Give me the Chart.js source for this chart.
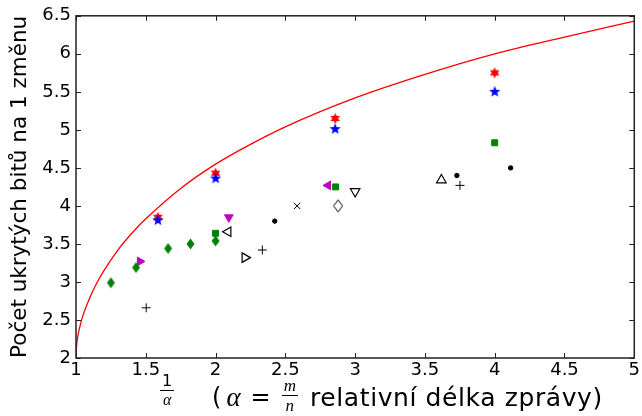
<!DOCTYPE html>
<html>
<head>
<meta charset="utf-8">
<script src="https://cdn.jsdelivr.net/npm/chart.js@4.4.1/dist/chart.umd.min.js"></script>
<style>
body { margin: 0; background: #fff; }
#wrap { position: relative; width: 642px; height: 416px; }
#plot { position: absolute; left: 0; top: 0; }
.mi { font-family: "Liberation Serif", serif; font-style: italic; }
.frac { display: flex; flex-direction: column; align-items: center; line-height: 1; }
.frac .num { border-bottom: 1.4px solid #000; padding: 0 2px 1px; }
.frac .den { padding-top: 1px; }
#fracA { position: absolute; left: 160px; top: 373px; font-size: 16px; font-family: "DejaVu Sans"; }
#xtext { position: absolute; left: 212px; top: 380px; height: 34px; display: flex; align-items: center; font-size: 24px; font-family: "DejaVu Sans"; white-space: nowrap; color: #000; }
#xtext .alpha { font-size: 27px; margin-left: 5px; }
#xtext .eq { margin: 0 11px 0 10px; }
#xtext .frac { font-size: 17px; margin-right: 12px; position: relative; top: -2px; }
#xtext .words { font-size: 25px; letter-spacing: 0.6px; }
</style>
</head>
<body>
<div id="wrap">
  <canvas id="plot" width="642" height="416"></canvas>
  <div id="fracA" class="frac"><span class="num">1</span><span class="den mi">α</span></div>
  <div id="xtext"><span>(</span><span class="mi alpha">α</span><span class="eq">=</span><span class="frac"><span class="num mi">m</span><span class="den mi">n</span></span><span class="words">relativní délka zprávy)</span></div>
</div>
<script>
// bound curve
const curveX = [1, 1.003, 1.01, 1.02, 1.03, 1.05, 1.1, 1.15, 1.2, 1.3, 1.4, 1.5, 1.75, 2, 2.25, 2.5, 3, 3.5, 4, 4.5, 5];
const curveY = [2.0, 2.13, 2.25, 2.35, 2.43, 2.56, 2.80, 2.99, 3.15, 3.42, 3.64, 3.83, 4.23, 4.55, 4.81, 5.04, 5.42, 5.73, 6.0, 6.22, 6.43];

// measured points
const greenDiamondX = [1.25, 1.43, 1.66, 1.82, 2.0];
const greenDiamondY = [2.99, 3.19, 3.44, 3.50, 3.54];
const greenSquareX = [2.0, 2.86, 4.0];
const greenSquareY = [3.64, 4.25, 4.83];
const redStarX = [1.587, 2.0, 2.857, 4.0];
const redStarY = [3.85, 4.43, 5.15, 5.75];
const blueStarX = [1.587, 2.0, 2.857, 4.0];
const blueStarY = [3.81, 4.36, 5.01, 5.50];
const magDownX = [2.095], magDownY = [3.85];
const magRightX = [1.458], magRightY = [3.27];
const magLeftX = [2.806], magLeftY = [4.27];
const blkLeftX = [2.09], blkLeftY = [3.66];
const blkRightX = [2.21], blkRightY = [3.32];
const blkDownX = [3.0], blkDownY = [4.19];
const blkUpX = [3.618], blkUpY = [4.34];
const blkPlusX = [1.503, 2.335, 3.751];
const blkPlusY = [2.66, 3.42, 4.27];
const blkDotX = [2.424, 3.729, 4.114];
const blkDotY = [3.80, 4.40, 4.50];
const blkCrossX = [2.584], blkCrossY = [4.0];
const blkDiamondX = [2.878], blkDiamondY = [4.0];

const xTicks = [1, 1.5, 2, 2.5, 3, 3.5, 4, 4.5, 5];
const yTicks = [2, 2.5, 3, 3.5, 4, 4.5, 5, 5.5, 6, 6.5];

const pts = (xs, ys) => xs.map((x, i) => ({ x: x, y: ys[i] }));

// small canvases for marker shapes chart.js lacks
function starMarker(n, ro, ri, fill) {
    const s = Math.ceil(ro * 2 + 2);
    const c = document.createElement("canvas");
    c.width = c.height = s;
    const g = c.getContext("2d");
    g.translate(s / 2, s / 2);
    g.beginPath();
    for (let i = 0; i < n * 2; i++) {
        const r = i % 2 ? ri : ro;
        const a = -Math.PI / 2 + i * Math.PI / n;
        g.lineTo(r * Math.cos(a), r * Math.sin(a));
    }
    g.closePath();
    g.fillStyle = fill;
    g.fill();
    return c;
}

function diamondMarker(w, h, fill, stroke) {
    const c = document.createElement("canvas");
    c.width = w + 3; c.height = h + 3;
    const g = c.getContext("2d");
    const cx = c.width / 2, cy = c.height / 2;
    g.beginPath();
    g.moveTo(cx, cy - h / 2);
    g.lineTo(cx + w / 2, cy);
    g.lineTo(cx, cy + h / 2);
    g.lineTo(cx - w / 2, cy);
    g.closePath();
    if (fill) { g.fillStyle = fill; g.fill(); }
    if (stroke) { g.strokeStyle = stroke; g.lineWidth = 1; g.stroke(); }
    return c;
}

function marker(label, data, style, opts) {
    return Object.assign({
        label: label,
        data: data,
        showLine: false,
        pointStyle: style,
        pointRadius: 4,
        pointBorderWidth: 1,
        pointBackgroundColor: "#000",
        pointBorderColor: "#000",
        order: 1
    }, opts || {});
}

const hollow = { pointRadius: 5.5, pointBackgroundColor: "rgba(0,0,0,0)", pointBorderWidth: 1.2 };
const magenta = { pointRadius: 5, pointBackgroundColor: "#c000c0", pointBorderColor: "#c000c0" };

const datasets = [
    {
        label: "bound",
        data: pts(curveX, curveY),
        showLine: true,
        borderColor: "#ff0000",
        borderWidth: 1.3,
        pointRadius: 0,
        cubicInterpolationMode: "monotone",
        order: 10
    },
    marker("green diamonds", pts(greenDiamondX, greenDiamondY), diamondMarker(8, 11, "#008000", null)),
    marker("green squares", pts(greenSquareX, greenSquareY), "rect", { pointRadius: 4.2, pointBackgroundColor: "#008000", pointBorderColor: "#008000" }),
    marker("blue stars", pts(blueStarX, blueStarY), starMarker(5, 6, 2.5, "#0000ff"), { order: 0 }),
    marker("red stars", pts(redStarX, redStarY), starMarker(6, 5.5, 3, "#ff0000"), { order: 2 }),
    marker("mag down", pts(magDownX, magDownY), "triangle", Object.assign({ pointRotation: 180 }, magenta)),
    marker("mag right", pts(magRightX, magRightY), "triangle", Object.assign({ pointRotation: 90 }, magenta)),
    marker("mag left", pts(magLeftX, magLeftY), "triangle", Object.assign({ pointRotation: 270 }, magenta)),
    marker("blk left", pts(blkLeftX, blkLeftY), "triangle", Object.assign({ pointRotation: 270 }, hollow)),
    marker("blk right", pts(blkRightX, blkRightY), "triangle", Object.assign({ pointRotation: 90 }, hollow)),
    marker("blk down", pts(blkDownX, blkDownY), "triangle", Object.assign({ pointRotation: 180 }, hollow)),
    marker("blk up", pts(blkUpX, blkUpY), "triangle", hollow),
    marker("blk plus", pts(blkPlusX, blkPlusY), "cross", { pointRadius: 4.5 }),
    marker("blk dots", pts(blkDotX, blkDotY), "circle", { pointRadius: 2.2 }),
    marker("blk x", pts(blkCrossX, blkCrossY), "crossRot", { pointRadius: 4.5 }),
    marker("blk diamond", pts(blkDiamondX, blkDiamondY), diamondMarker(9, 12, null, "#000"))
];

// box round the plot and inward ticks on all four sides
const boxAndTicks = {
    id: "boxAndTicks",
    afterDraw(chart) {
        const { ctx, chartArea: a, scales } = chart;
        ctx.save();
        ctx.strokeStyle = "#222";
        ctx.lineWidth = 1;
        ctx.beginPath();
        xTicks.forEach(v => {
            const px = Math.round(scales.x.getPixelForValue(v)) + 0.5;
            ctx.moveTo(px, a.bottom); ctx.lineTo(px, a.bottom - 5);
            ctx.moveTo(px, a.top); ctx.lineTo(px, a.top + 5);
        });
        yTicks.forEach(v => {
            const py = Math.round(scales.y.getPixelForValue(v)) + 0.5;
            ctx.moveTo(a.left, py); ctx.lineTo(a.left + 5, py);
            ctx.moveTo(a.right, py); ctx.lineTo(a.right - 5, py);
        });
        ctx.stroke();
        ctx.lineWidth = 1.5;
        ctx.strokeRect(a.left, a.top, a.right - a.left, a.bottom - a.top);
        ctx.restore();
    }
};

const tickFont = { family: "DejaVu Sans", size: 18 };

new Chart(document.getElementById("plot"), {
    type: "scatter",
    data: { datasets: datasets },
    options: {
        responsive: false,
        animation: false,
        layout: { padding: { top: 13, right: 7, left: 0, bottom: 0 } },
        plugins: { legend: { display: false }, tooltip: { enabled: false } },
        scales: {
            x: {
                type: "linear",
                min: 1, max: 5,
                afterBuildTicks: s => { s.ticks = xTicks.map(v => ({ value: v })); },
                ticks: { color: "#000", font: tickFont, padding: 2, maxRotation: 0, autoSkip: false, callback: v => String(v) },
                grid: { display: false, drawTicks: false },
                border: { display: false },
                afterFit: s => { s.height = 58; }
            },
            y: {
                type: "linear",
                min: 2, max: 6.5,
                afterBuildTicks: s => { s.ticks = yTicks.map(v => ({ value: v })); },
                ticks: { color: "#000", font: tickFont, padding: 5, autoSkip: false, callback: v => String(v) },
                grid: { display: false, drawTicks: false },
                border: { display: false },
                title: {
                    display: true,
                    text: "Počet ukrytých bitů na 1 změnu",
                    color: "#000",
                    font: { family: "DejaVu Sans", size: 21.5 },
                    padding: { top: 8, bottom: 0 }
                },
                afterFit: s => { s.width = 76; }
            }
        }
    },
    plugins: [boxAndTicks]
});
</script>
</body>
</html>
